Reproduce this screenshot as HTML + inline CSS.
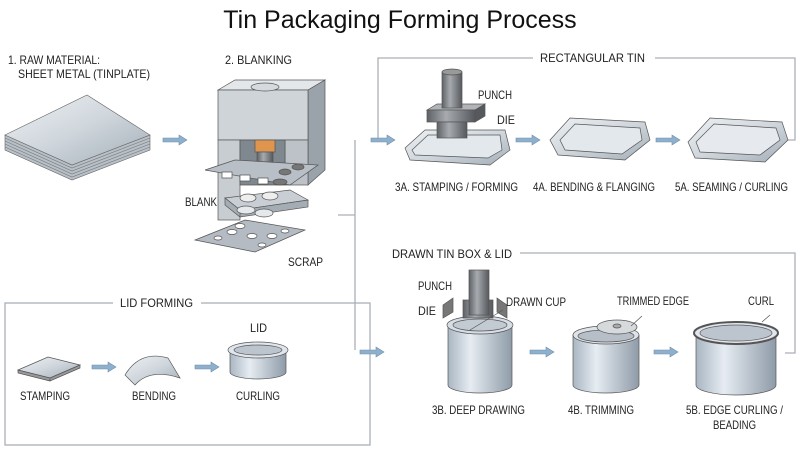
<!DOCTYPE html>
<html><head><meta charset="utf-8"><style>
html,body{margin:0;padding:0;background:#fff}
svg{display:block}
text{font-family:"Liberation Sans Narrow","Liberation Sans",sans-serif;font-size:12px;fill:#222}
</style></head><body>
<svg width="800" height="450" viewBox="0 0 800 450" xmlns="http://www.w3.org/2000/svg">
<defs>
<linearGradient id="m" x1="0" y1="0" x2="1" y2="1"><stop offset="0" stop-color="#eef1f4"/><stop offset=".5" stop-color="#cfd6dc"/><stop offset="1" stop-color="#a4aeb8"/></linearGradient>
<linearGradient id="c" x1="0" y1="0" x2="1" y2="0"><stop offset="0" stop-color="#a9b6c2"/><stop offset=".35" stop-color="#e6ecf2"/><stop offset="1" stop-color="#8e9ba8"/></linearGradient>
<linearGradient id="d" x1="0" y1="0" x2="1" y2="0"><stop offset="0" stop-color="#5e6165"/><stop offset=".4" stop-color="#a7abb0"/><stop offset="1" stop-color="#55585c"/></linearGradient>
</defs>
<text x="400" y="28" text-anchor="middle" style="font-family:'Liberation Sans',sans-serif;font-size:25px;fill:#111">Tin Packaging Forming Process</text>

<g stroke="#aab0b6" stroke-width="1.3" fill="none">
<path d="M378,140 V58 H533 M655,58 H795 V140 H788"/>
<path d="M338,215 H355 M355,140 V350"/>
<path d="M520,253 H795 V353 H785"/>
<rect x="5" y="303" width="365" height="142"/>
</g>
<rect x="113" y="296" width="88" height="14" fill="#fff"/>
<text x="120" y="307" textLength="73" lengthAdjust="spacingAndGlyphs">LID FORMING</text>
<text x="540" y="62" textLength="105" lengthAdjust="spacingAndGlyphs">RECTANGULAR TIN</text>
<text x="392" y="258" textLength="120" lengthAdjust="spacingAndGlyphs">DRAWN TIN BOX &amp; LID</text>

<g fill="#8fb0cc" stroke="#6f8fab" stroke-width=".6">
<path d="M0,-2 H16 V-5 L24,0 L16,5 V2 H0 Z" transform="translate(163,140)"/>
<path d="M0,-2 H16 V-5 L24,0 L16,5 V2 H0 Z" transform="translate(371,140)"/>
<path d="M0,-2 H16 V-5 L24,0 L16,5 V2 H0 Z" transform="translate(360,352)"/>
<path d="M0,-2 H16 V-5 L24,0 L16,5 V2 H0 Z" transform="translate(516,140)"/>
<path d="M0,-2 H16 V-5 L24,0 L16,5 V2 H0 Z" transform="translate(656,140)"/>
<path d="M0,-2 H16 V-5 L24,0 L16,5 V2 H0 Z" transform="translate(530,352)"/>
<path d="M0,-2 H16 V-5 L24,0 L16,5 V2 H0 Z" transform="translate(654,352)"/>
<path d="M0,-2 H16 V-5 L24,0 L16,5 V2 H0 Z" transform="translate(92,367)"/>
<path d="M0,-2 H16 V-5 L24,0 L16,5 V2 H0 Z" transform="translate(195,367)"/>
</g>

<text x="8" y="64" textLength="92" lengthAdjust="spacingAndGlyphs">1. RAW MATERIAL:</text>
<text x="18" y="78" textLength="132" lengthAdjust="spacingAndGlyphs">SHEET METAL (TINPLATE)</text>
<g stroke="#666" stroke-width=".6">
<path d="M5,135 L72,165 L150,135 V150 L72,180 L5,150 Z" fill="#b8c0c8"/>
<path d="M5,138 L72,168 L150,138 M5,141 L72,171 L150,141 M5,144 L72,174 L150,144 M5,147 L72,177 L150,147" fill="none" stroke="#777"/>
<path d="M5,135 L87,95 L150,135 L72,165 Z" fill="url(#m)"/>
</g>

<text x="225" y="64" textLength="67" lengthAdjust="spacingAndGlyphs">2. BLANKING</text>
<g stroke="#555" stroke-width=".7">
<path d="M218,90 L235,80 L325,80 L308,90 Z" fill="#e4e7ea"/>
<path d="M308,90 L325,80 V170 L308,185 Z" fill="#9aa2aa"/>
<rect x="218" y="90" width="90" height="50" fill="#cfd4d9"/>
<rect x="218" y="140" width="22" height="80" fill="#c8cdd2"/>
<rect x="285" y="140" width="23" height="45" fill="#bcc2c8"/>
<path d="M240,140 H285 V185 H240 Z" fill="#7f878f"/>
<rect x="255" y="140" width="20" height="12" fill="#e0954e"/>
<rect x="257" y="152" width="16" height="15" fill="url(#d)"/>
<ellipse cx="265" cy="87" rx="14" ry="4" fill="#d6dade"/>
<path d="M205,170 L235,160 L318,165 L290,185 Z" fill="#b8bfc6"/>
<path d="M222,172 h10 v6 h-10z M240,175 h10 v6 h-10z M258,178 h10 v6 h-10z" fill="#fff"/>
<ellipse cx="285" cy="172" rx="6" ry="3" fill="#777"/><ellipse cx="298" cy="167" rx="6" ry="3" fill="#777"/><ellipse cx="280" cy="182" rx="7" ry="3" fill="#777"/>
<path d="M225,198 L290,190 L308,200 L240,210 Z" fill="#c8ced4"/>
<path d="M225,198 V205 L240,217 V210 Z M240,210 V217 L308,207 V200 Z" fill="#a4acb4"/>
<ellipse cx="248" cy="198" rx="8" ry="4" fill="#eee"/><ellipse cx="270" cy="196" rx="8" ry="4" fill="#eee"/>
<ellipse cx="246" cy="210" rx="9" ry="4" fill="#e6e9ec"/><ellipse cx="264" cy="213" rx="9" ry="4" fill="#e6e9ec"/>
<path d="M195,240 L245,220 L305,230 L255,252 Z" fill="#b4bbc2"/>
<ellipse cx="232" cy="232" rx="5" ry="2.5" fill="#fff"/><ellipse cx="252" cy="236" rx="5" ry="2.5" fill="#fff"/><ellipse cx="272" cy="236" rx="5" ry="2.5" fill="#fff"/><ellipse cx="240" cy="226" rx="5" ry="2.5" fill="#fff"/><ellipse cx="285" cy="231" rx="4" ry="2" fill="#fff"/><ellipse cx="218" cy="238" rx="4" ry="2" fill="#fff"/><ellipse cx="262" cy="245" rx="4" ry="2" fill="#fff"/>
</g>
<text x="185" y="206" textLength="32" lengthAdjust="spacingAndGlyphs">BLANK</text>
<text x="288" y="266" textLength="35" lengthAdjust="spacingAndGlyphs">SCRAP</text>

<g stroke="#555" stroke-width=".7">
<path d="M405,148 L425,130 L505,130 L510,150 L490,165 L410,160 Z" fill="url(#m)"/>
<path d="M412,150 L428,135 L500,135 L502,150 L488,158 L415,155 Z" fill="#e3e8ed"/>
<path d="M427,110 L437,104 L485,104 L475,110 Z" fill="#b0b4b8"/>
<rect x="427" y="110" width="48" height="12" fill="url(#d)"/>
<path d="M475,110 L485,104 V116 L475,122 Z" fill="#55585c"/>
<rect x="437" y="122" width="30" height="16" fill="url(#d)"/>
<rect x="442" y="72" width="20" height="36" fill="url(#d)"/>
<ellipse cx="452" cy="72" rx="10" ry="3" fill="#999"/>
<path d="M550,140 L570,118 L645,122 L650,140 L625,160 L558,155 Z" fill="url(#m)"/>
<path d="M560,140 L575,124 L640,128 L642,140 L622,154 L565,150 Z" fill="#e3e8ed"/>
<path d="M688,142 L710,118 L782,122 L788,140 L765,162 L695,158 Z" fill="url(#m)"/>
<path d="M696,142 L714,124 L776,128 L780,140 L760,155 L700,152 Z" fill="#e6eaef"/>
</g>
<text x="478" y="99" textLength="34" lengthAdjust="spacingAndGlyphs">PUNCH</text>
<text x="497" y="124" textLength="18" lengthAdjust="spacingAndGlyphs">DIE</text>
<text x="395" y="191" textLength="123" lengthAdjust="spacingAndGlyphs">3A. STAMPING / FORMING</text>
<text x="533" y="191" textLength="122" lengthAdjust="spacingAndGlyphs">4A. BENDING &amp; FLANGING</text>
<text x="675" y="191" textLength="113" lengthAdjust="spacingAndGlyphs">5A. SEAMING / CURLING</text>

<g stroke="#555" stroke-width=".7">
<path d="M448,325 V385 A32,8 0 0 0 512,385 V325 Z" fill="url(#c)"/>
<ellipse cx="480" cy="325" rx="33" ry="9" fill="#d6dde4"/>
<ellipse cx="480" cy="325" rx="27" ry="6" fill="#c2cad2"/>
<path d="M443,305 L453,298 V312 L443,318 Z M507,305 L497,298 V312 L507,318 Z" fill="#777"/>
<rect x="463" y="300" width="30" height="18" fill="url(#d)"/>
<rect x="469" y="270" width="20" height="45" fill="url(#d)"/>
<path d="M573,335 V385 A33,8 0 0 0 639,385 V335 Z" fill="url(#c)"/>
<ellipse cx="606" cy="335" rx="33" ry="9" fill="#dde3e8"/>
<ellipse cx="606" cy="336" rx="28" ry="6" fill="#b6bfc8"/>
<ellipse cx="617" cy="327" rx="20" ry="7" fill="#d6dadd"/><ellipse cx="617" cy="326" rx="4" ry="2" fill="#aaa"/>
<path d="M696,335 V385 A40,10 0 0 0 776,385 V335 Z" fill="url(#c)"/>
<ellipse cx="736" cy="333" rx="42" ry="11" fill="#e0e6ec" stroke-width="2"/>
<ellipse cx="736" cy="333" rx="36" ry="8" fill="#bcc5ce"/>
<path d="M470,330 L503,310 M631,326 L642,316 M762,322 L770,315" fill="none"/>
</g>
<text x="418" y="290" textLength="34" lengthAdjust="spacingAndGlyphs">PUNCH</text>
<text x="418" y="315" textLength="18" lengthAdjust="spacingAndGlyphs">DIE</text>
<text x="506" y="306" textLength="60" lengthAdjust="spacingAndGlyphs">DRAWN CUP</text>
<text x="617" y="305" textLength="72" lengthAdjust="spacingAndGlyphs">TRIMMED EDGE</text>
<text x="748" y="305" textLength="26" lengthAdjust="spacingAndGlyphs">CURL</text>
<text x="432" y="414" textLength="93" lengthAdjust="spacingAndGlyphs">3B. DEEP DRAWING</text>
<text x="568" y="414" textLength="66" lengthAdjust="spacingAndGlyphs">4B. TRIMMING</text>
<text x="686" y="414" textLength="97" lengthAdjust="spacingAndGlyphs">5B. EDGE CURLING /</text>
<text x="713" y="429" textLength="43" lengthAdjust="spacingAndGlyphs">BEADING</text>

<g stroke="#555" stroke-width=".7">
<path d="M18,370 L48,357 L80,365 L50,378 Z" fill="url(#m)"/>
<path d="M18,370 V373 L50,381 V378 Z M50,378 V381 L80,368 V365 Z" fill="#999"/>
<path d="M125,375 Q140,350 168,358 L180,378 Q150,368 135,385 Z" fill="url(#m)"/>
<path d="M230,350 V372 A28,7 0 0 0 286,372 V350 Z" fill="url(#c)"/>
<ellipse cx="258" cy="350" rx="30" ry="8" fill="#e0e6ec"/>
<ellipse cx="258" cy="350" rx="24" ry="5" fill="#bcc5ce"/>
</g>
<text x="250" y="332" textLength="17" lengthAdjust="spacingAndGlyphs">LID</text>
<text x="20" y="400" textLength="50" lengthAdjust="spacingAndGlyphs">STAMPING</text>
<text x="132" y="400" textLength="44" lengthAdjust="spacingAndGlyphs">BENDING</text>
<text x="236" y="400" textLength="44" lengthAdjust="spacingAndGlyphs">CURLING</text>
</svg>
</body></html>
